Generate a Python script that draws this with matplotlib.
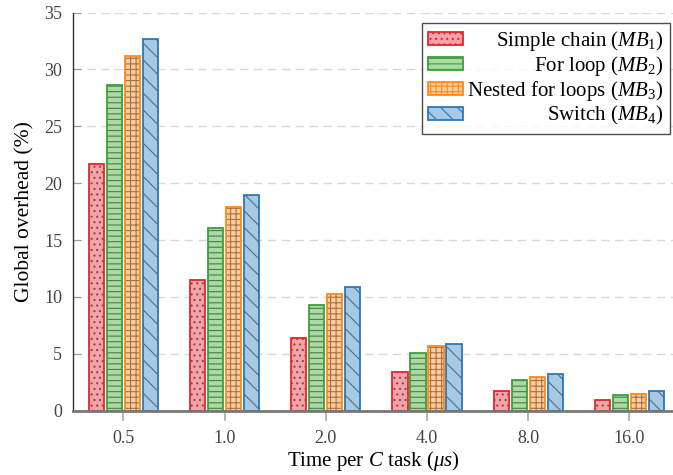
import numpy as np
import matplotlib
matplotlib.use('Agg')
import matplotlib.pyplot as plt
from matplotlib.transforms import Affine2D

plt.rcParams['font.family'] = ['Liberation Serif', 'DejaVu Serif']
plt.rcParams['mathtext.fontset'] = 'custom'
plt.rcParams['mathtext.rm'] = 'Liberation Serif'
plt.rcParams['mathtext.it'] = 'Liberation Serif:italic'
plt.rcParams['hatch.linewidth'] = 0.8

categories = ['0.5', '1.0', '2.0', '4.0', '8.0', '16.0']
simple_chain = [21.7, 11.5, 6.4, 3.4, 1.7, 0.9]
for_loop = [28.6, 16.1, 9.3, 5.1, 2.7, 1.4]
nested_loops = [31.2, 17.9, 10.3, 5.7, 3.0, 1.5]
switch = [32.7, 19.0, 10.9, 5.9, 3.2, 1.7]

labels = [r'Simple chain ($MB_1$)', r'For loop ($MB_2$)',
          r'Nested for loops ($MB_3$)', r'Switch ($MB_4$)']
series = [simple_chain, for_loop, nested_loops, switch]
faces = ['#f4a3a8', '#acd9a4', '#ffcd9c', '#a7c9e3']
edges = ['#e3262e', '#3c9f3c', '#ff8a1c', '#2a79b6']
hatch_cols = ['#8f4549', '#4a7d47', '#a8704a', '#4f6f88']
hatches = ['...', '---', '+++', '\\\\']

fig = plt.figure(figsize=(6.73, 4.75), dpi=100)
ax = fig.add_axes([0.109, 0.1354, 0.891, 0.838])

x = np.arange(len(categories))
width = 0.15
pitch = 0.178
handles = []
for i, vals in enumerate(series):
    pos = x + (i - 1.5) * pitch
    ax.bar(pos, vals, width, color=faces[i], edgecolor=hatch_cols[i],
           hatch=hatches[i], linewidth=0, zorder=3)
    ax.bar(pos, vals, width, facecolor='none', edgecolor=edges[i],
           linewidth=1.3, zorder=4)
    handles.append(plt.Rectangle((0, 0), 1, 1, facecolor=faces[i],
                                 edgecolor=edges[i], hatch=hatches[i],
                                 linewidth=1.3))

ax.set_xlim(-0.493, 5.43)
ax.set_ylim(0, 35)
ax.set_xticks(x)
ax.set_xticklabels(categories)
ax.set_yticks(np.arange(0, 36, 5))
ax.yaxis.grid(True, linestyle=(0, (6, 4)), color='#d8d8d8', linewidth=1.0, zorder=0)
ax.set_axisbelow(True)

for s in ['top', 'right']:
    ax.spines[s].set_visible(False)
ax.spines['left'].set_color('#333333')
ax.spines['left'].set_linewidth(1.0)
ax.spines['bottom'].set_color('#777777')
ax.spines['bottom'].set_linewidth(2.0)
ax.spines['bottom'].set_zorder(5)

ax.tick_params(axis='y', direction='in', length=6, color='#999999',
               labelsize=13, labelcolor='#444444', pad=8)
ax.tick_params(axis='x', direction='out', length=7, width=1.2, color='#aaaaaa',
               labelsize=13, labelcolor='#444444', pad=7)

ax.set_xlabel(r'Time per $C$ task ($\mu s$)', fontsize=15, labelpad=1.5)
ax.set_ylabel('Global overhead (%)', fontsize=15.5, labelpad=7)

leg = ax.legend(handles, labels, loc='upper right', bbox_to_anchor=(0.9943, 0.974),
                fontsize=15, frameon=True, fancybox=False, edgecolor='#222222',
                handlelength=1.68, handleheight=0.58, handletextpad=0.2,
                borderaxespad=0, labelspacing=0.05, borderpad=0.3)
leg.get_frame().set_linewidth(1.0)

# right-align the legend labels
fig.canvas.draw()
texts = leg.get_texts()
r = fig.canvas.get_renderer()
rights = [t.get_window_extent(r).x1 for t in texts]
mx = max(rights)
for t, rr in zip(texts, rights):
    t.set_transform(t.get_transform() + Affine2D().translate(mx - rr, 0))

fig.savefig('out.png', dpi=100)
